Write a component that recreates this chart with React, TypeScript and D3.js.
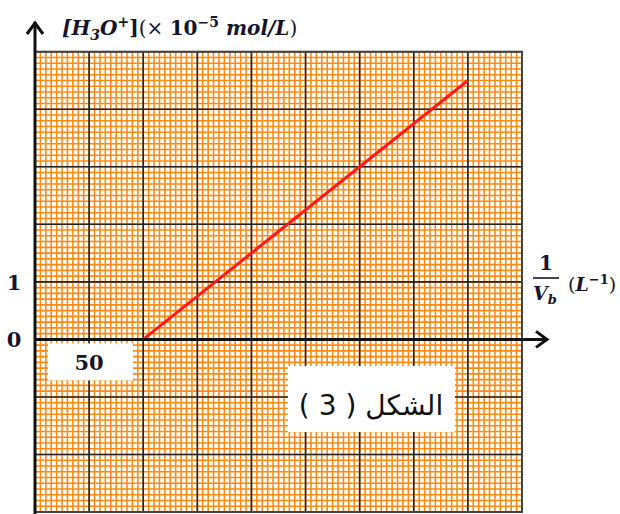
import React from "react";
import * as d3 from "d3";

// Axis ranges (x in L^-1, y in 10^-5 mol/L)
const xDomain = [0, 450];
const yDomain = [-3, 5];
const xMajorStep = 50;
const yMajorStep = 1;
const minorDivisions = 10;

// Measured line: [H3O+] versus 1/Vb
const lineX = [100, 400];
const lineY = [0, 4.5];

const yTickLabels = ["0", "1"];
const xTickLabel = "50";
const figureCaption = "الشكل ( 3 )";

const W = 620;
const H = 514;

export default function App() {
  const x = d3.scaleLinear().domain(xDomain).range([35, 522]);
  const y = d3.scaleLinear().domain(yDomain).range([512, 51.7]);

  const xMinor = d3.range(xDomain[0], xDomain[1] + 0.001, xMajorStep / minorDivisions);
  const yMinor = d3.range(yDomain[0], yDomain[1] + 0.0001, yMajorStep / minorDivisions);
  const xMajor = d3.range(xDomain[0], xDomain[1] + 0.001, xMajorStep);
  const yMajor = d3.range(yDomain[0], yDomain[1] + 0.0001, yMajorStep);

  const pts: [number, number][] = lineX.map((v, i) => [v, lineY[i]]);
  const linePath = d3
    .line<[number, number]>()
    .x((d) => x(d[0]))
    .y((d) => y(d[1]))(pts);

  const left = x(xDomain[0]);
  const right = x(xDomain[1]);
  const top = y(yDomain[1]);
  const bottom = y(yDomain[0]);
  const y0 = y(0);
  const ink = "#14142a";
  const serif = "'DejaVu Serif', 'Liberation Serif', serif";

  return (
    <svg width={W} height={H} style={{ position: "absolute", left: 0, top: 0, background: "#fff" }}>
      <rect x={0} y={0} width={W} height={H} fill="#fff" />
      {/* graph paper: minor orange lines */}
      <g stroke="#ff8a12" strokeWidth={1.6}>
        {xMinor.map((v, i) => (
          <line key={"xm" + i} x1={x(v)} x2={x(v)} y1={top} y2={bottom} />
        ))}
        {yMinor.map((v, i) => (
          <line key={"ym" + i} x1={left} x2={right} y1={y(v)} y2={y(v)} />
        ))}
      </g>
      {/* major black lines */}
      <g stroke="#222" strokeWidth={1.6}>
        {xMajor.map((v, i) => (
          <line key={"xM" + i} x1={x(v)} x2={x(v)} y1={top} y2={bottom} />
        ))}
        {yMajor.map((v, i) => (
          <line key={"yM" + i} x1={left} x2={right} y1={y(v)} y2={y(v)} />
        ))}
      </g>
      <rect x={left} y={top} width={right - left} height={bottom - top} fill="none" stroke="#444" strokeWidth={2} />

      {/* x tick label box */}
      <rect x={48} y={y0 + 4} width={85} height={37} fill="#fff" />
      <text x={x(50)} y={y0 + 31} textAnchor="middle" fontFamily={serif} fontWeight="bold" fontSize={21} fill={ink}>
        {xTickLabel}
      </text>

      {/* caption box */}
      <rect x={288} y={366} width={167} height={66} fill="#fff" />
      <text
        x={371}
        y={415}
        textAnchor="middle"
        direction="rtl"
        fontFamily="'DejaVu Sans', 'Noto Sans', sans-serif"
        fontSize={28}
        fill="#111"
      >
        {figureCaption}
      </text>

      {/* data line */}
      <path d={linePath ?? ""} stroke="#ff1a1a" strokeWidth={3} fill="none" />

      {/* axes */}
      <line x1={left} x2={left} y1={H} y2={22} stroke="#111" strokeWidth={3} />
      <polyline points={`${left - 8},${34} ${left},${23} ${left + 8},${34}`} fill="none" stroke="#111" strokeWidth={3} />
      <line x1={left} x2={547} y1={y0} y2={y0} stroke="#111" strokeWidth={3} />
      <polyline points={`${536},${y0 - 8} ${547},${y0} ${536},${y0 + 8}`} fill="none" stroke="#111" strokeWidth={3} />

      {/* y tick labels */}
      {yTickLabels.map((t) => (
        <text key={t} x={14} y={y(+t) + 8} textAnchor="middle" fontFamily={serif} fontWeight="bold" fontSize={21} fill={ink}>
          {t}
        </text>
      ))}

      {/* y-axis title */}
      <text x={62} y={35} fontFamily={serif} fontWeight="bold" fontSize={20} fill={ink}>
        <tspan fontStyle="italic">[H</tspan>
        <tspan fontStyle="italic" fontSize={14} dy={5}>3</tspan>
        <tspan fontStyle="italic" dy={-5}>O</tspan>
        <tspan fontSize={14} dy={-8}>+</tspan>
        <tspan dy={8}>]</tspan>
        <tspan fontWeight="normal">(× </tspan>
        <tspan>10</tspan>
        <tspan fontSize={14} dy={-8}>−5</tspan>
        <tspan fontStyle="italic" dy={8}> mol/L</tspan>
        <tspan fontWeight="normal">)</tspan>
      </text>

      {/* x-axis title */}
      <text x={546} y={270} textAnchor="middle" fontFamily={serif} fontWeight="bold" fontSize={20} fill={ink}>1</text>
      <line x1={533} x2={559} y1={278} y2={278} stroke={ink} strokeWidth={1.6} />
      <text x={545} y={300} textAnchor="middle" fontFamily={serif} fontWeight="bold" fontStyle="italic" fontSize={19} fill={ink}>
        V<tspan fontSize={13} dy={4}>b</tspan>
      </text>
      <text x={568} y={291} fontFamily={serif} fontWeight="bold" fontSize={19} fill={ink}>
        <tspan fontWeight="normal">(</tspan>
        <tspan fontStyle="italic">L</tspan>
        <tspan fontSize={13} dy={-7}>−1</tspan>
        <tspan fontWeight="normal" dy={7}>)</tspan>
      </text>
    </svg>
  );
}
